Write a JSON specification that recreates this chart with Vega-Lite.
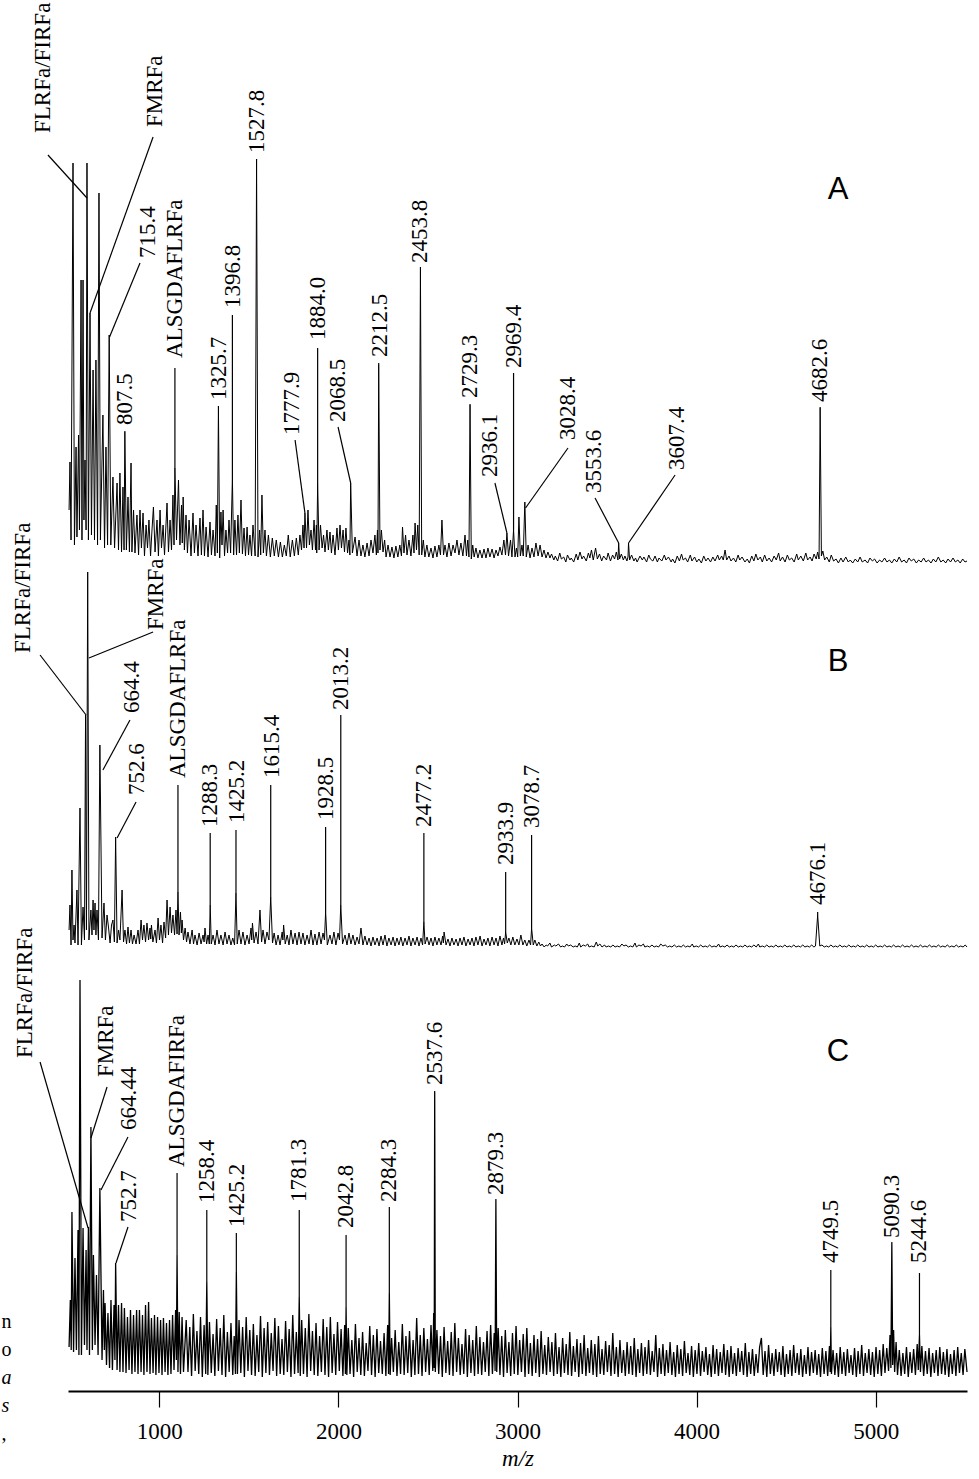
{
"$schema": "https://vega.github.io/schema/vega-lite/v6.json",
"width": 899, "height": 1220,
"autosize": {"type": "none"},
"padding": {"left": 68, "top": 160, "right": 12, "bottom": 99},
"background": "white",
"config": {"view": {"stroke": null}},
"resolve": {"scale": {"y": "independent"}, "axis": {"y": "independent"}},
"datasets": {
"A": [{"m":496,"i":55},{"m":501,"i":103},{"m":507,"i":25},{"m":518,"i":402},{"m":526,"i":20},{"m":535,"i":118},{"m":540,"i":28},{"m":549,"i":130},{"m":554,"i":35},{"m":563,"i":285},{"m":568,"i":25},{"m":574,"i":285},{"m":579,"i":45},{"m":585,"i":105},{"m":591,"i":35},{"m":596,"i":402},{"m":604,"i":25},{"m":613,"i":252},{"m":621,"i":30},{"m":630,"i":195},{"m":638,"i":25},{"m":646,"i":205},{"m":655,"i":20},{"m":663,"i":372},{"m":671,"i":25},{"m":685,"i":150},{"m":694,"i":17},{"m":702,"i":118},{"m":711,"i":20},{"m":720,"i":230},{"m":729,"i":20},{"m":741,"i":88},{"m":750,"i":17},{"m":764,"i":82},{"m":772,"i":15},{"m":780,"i":92},{"m":789,"i":13},{"m":797,"i":78},{"m":803,"i":15},{"m":807.5,"i":133},{"m":816,"i":15},{"m":825,"i":68},{"m":833,"i":13},{"m":842,"i":102},{"m":847,"i":13},{"m":856,"i":55},{"m":864,"i":12},{"m":875,"i":50},{"m":884,"i":10},{"m":892,"i":55},{"m":900,"i":17},{"m":909,"i":52},{"m":917,"i":9},{"m":926,"i":40},{"m":934,"i":17},{"m":942,"i":45},{"m":951,"i":9},{"m":959,"i":35},{"m":967,"i":58},{"m":976,"i":13},{"m":987,"i":45},{"m":995,"i":9},{"m":1004,"i":55},{"m":1012,"i":17},{"m":1021,"i":40},{"m":1029,"i":10},{"m":1043,"i":62},{"m":1051,"i":13},{"m":1060,"i":45},{"m":1068,"i":15},{"m":1076,"i":70},{"m":1082,"i":20},{"m":1087,"i":97},{"m":1096,"i":25},{"m":1107,"i":85},{"m":1115,"i":20},{"m":1124,"i":60},{"m":1128,"i":22},{"m":1133,"i":68},{"m":1140,"i":15},{"m":1149,"i":50},{"m":1157,"i":12},{"m":1166,"i":45},{"m":1177,"i":9},{"m":1188,"i":52},{"m":1196,"i":12},{"m":1205,"i":40},{"m":1216,"i":9},{"m":1227,"i":47},{"m":1235,"i":10},{"m":1244,"i":55},{"m":1252,"i":9},{"m":1261,"i":38},{"m":1272,"i":8},{"m":1283,"i":43},{"m":1291,"i":10},{"m":1300,"i":35},{"m":1311,"i":9},{"m":1318,"i":60},{"m":1324,"i":12},{"m":1330,"i":158},{"m":1337,"i":7},{"m":1344,"i":53},{"m":1350,"i":20},{"m":1356,"i":55},{"m":1364,"i":9},{"m":1372,"i":35},{"m":1381,"i":12},{"m":1389,"i":45},{"m":1398,"i":12},{"m":1408,"i":87},{"m":1415,"i":10},{"m":1422,"i":45},{"m":1431,"i":10},{"m":1439,"i":50},{"m":1447,"i":12},{"m":1456,"i":65},{"m":1464,"i":11},{"m":1473,"i":37},{"m":1481,"i":9},{"m":1490,"i":38},{"m":1498,"i":10},{"m":1506,"i":30},{"m":1515,"i":9},{"m":1523,"i":40},{"m":1535,"i":9},{"m":1543,"i":405},{"m":1551,"i":8},{"m":1560,"i":35},{"m":1566,"i":10},{"m":1573,"i":70},{"m":1581,"i":12},{"m":1590,"i":35},{"m":1598,"i":9},{"m":1609,"i":30},{"m":1620,"i":8},{"m":1631,"i":27},{"m":1642,"i":9},{"m":1653,"i":25},{"m":1665,"i":8},{"m":1676,"i":23},{"m":1687,"i":8},{"m":1698,"i":20},{"m":1709,"i":9},{"m":1720,"i":30},{"m":1731,"i":8},{"m":1743,"i":25},{"m":1754,"i":9},{"m":1765,"i":27},{"m":1776,"i":10},{"m":1785,"i":30},{"m":1794,"i":15},{"m":1802,"i":40},{"m":1808,"i":17},{"m":1813,"i":52},{"m":1822,"i":17},{"m":1830,"i":55},{"m":1838,"i":20},{"m":1847,"i":35},{"m":1855,"i":15},{"m":1864,"i":45},{"m":1872,"i":15},{"m":1877,"i":40},{"m":1879,"i":12},{"m":1884,"i":82},{"m":1892,"i":15},{"m":1900,"i":40},{"m":1909,"i":17},{"m":1917,"i":30},{"m":1925,"i":13},{"m":1936,"i":35},{"m":1944,"i":15},{"m":1953,"i":33},{"m":1961,"i":12},{"m":1970,"i":30},{"m":1981,"i":10},{"m":1992,"i":37},{"m":2000,"i":15},{"m":2009,"i":40},{"m":2017,"i":17},{"m":2026,"i":35},{"m":2034,"i":13},{"m":2042,"i":37},{"m":2051,"i":12},{"m":2059,"i":25},{"m":2064,"i":10},{"m":2068.5,"i":82},{"m":2078,"i":12},{"m":2093,"i":28},{"m":2104,"i":9},{"m":2115,"i":25},{"m":2126,"i":9},{"m":2137,"i":20},{"m":2148,"i":8},{"m":2160,"i":22},{"m":2171,"i":9},{"m":2182,"i":25},{"m":2193,"i":12},{"m":2204,"i":30},{"m":2212,"i":10},{"m":2218,"i":35},{"m":2221,"i":12},{"m":2225,"i":200},{"m":2232,"i":15},{"m":2240,"i":35},{"m":2249,"i":13},{"m":2258,"i":25},{"m":2266,"i":8},{"m":2277,"i":20},{"m":2288,"i":8},{"m":2299,"i":18},{"m":2310,"i":7},{"m":2321,"i":19},{"m":2332,"i":8},{"m":2343,"i":20},{"m":2352,"i":9},{"m":2358,"i":38},{"m":2366,"i":12},{"m":2375,"i":30},{"m":2383,"i":10},{"m":2394,"i":25},{"m":2405,"i":9},{"m":2416,"i":30},{"m":2422,"i":12},{"m":2428,"i":42},{"m":2436,"i":15},{"m":2443,"i":40},{"m":2451,"i":10},{"m":2458,"i":297},{"m":2465,"i":10},{"m":2474,"i":25},{"m":2483,"i":8},{"m":2494,"i":20},{"m":2505,"i":8},{"m":2517,"i":17},{"m":2528,"i":7},{"m":2539,"i":19},{"m":2550,"i":8},{"m":2561,"i":20},{"m":2570,"i":10},{"m":2578,"i":45},{"m":2587,"i":10},{"m":2595,"i":20},{"m":2606,"i":8},{"m":2617,"i":22},{"m":2629,"i":9},{"m":2640,"i":20},{"m":2651,"i":12},{"m":2662,"i":25},{"m":2673,"i":10},{"m":2684,"i":22},{"m":2695,"i":9},{"m":2707,"i":30},{"m":2715,"i":9},{"m":2722,"i":25},{"m":2729,"i":8},{"m":2735,"i":160},{"m":2742,"i":6},{"m":2750,"i":20},{"m":2758,"i":8},{"m":2768,"i":17},{"m":2779,"i":7},{"m":2790,"i":15},{"m":2802,"i":7},{"m":2813,"i":16},{"m":2824,"i":7},{"m":2835,"i":17},{"m":2846,"i":8},{"m":2858,"i":16},{"m":2869,"i":7},{"m":2880,"i":15},{"m":2891,"i":9},{"m":2902,"i":18},{"m":2913,"i":10},{"m":2924,"i":25},{"m":2933,"i":10},{"m":2941,"i":32},{"m":2950,"i":9},{"m":2961,"i":25},{"m":2969,"i":8},{"m":2978,"i":35},{"m":2986,"i":8},{"m":2994,"i":17},{"m":3001,"i":8},{"m":3008,"i":48},{"m":3016,"i":9},{"m":3025,"i":20},{"m":3032,"i":9},{"m":3041,"i":63},{"m":3049,"i":8},{"m":3059,"i":20},{"m":3070,"i":7},{"m":3081,"i":17},{"m":3092,"i":8},{"m":3103,"i":22},{"m":3115,"i":9},{"m":3126,"i":20},{"m":3137,"i":8},{"m":3148,"i":15},{"m":3159,"i":7},{"m":3170,"i":13},{"m":3181,"i":7},{"m":3190,"i":11},{"m":3203,"i":5},{"m":3211,"i":9},{"m":3224,"i":4},{"m":3236,"i":12},{"m":3245,"i":6},{"m":3258,"i":8},{"m":3270,"i":3},{"m":3279,"i":10},{"m":3293,"i":5},{"m":3300,"i":7},{"m":3314,"i":3},{"m":3328,"i":11},{"m":3337,"i":5},{"m":3349,"i":13},{"m":3360,"i":6},{"m":3369,"i":9},{"m":3384,"i":4},{"m":3396,"i":12},{"m":3404,"i":7},{"m":3413,"i":15},{"m":3423,"i":5},{"m":3436,"i":17},{"m":3446,"i":6},{"m":3458,"i":11},{"m":3470,"i":4},{"m":3481,"i":9},{"m":3497,"i":5},{"m":3506,"i":12},{"m":3519,"i":4},{"m":3531,"i":10},{"m":3542,"i":6},{"m":3552,"i":13},{"m":3561,"i":5},{"m":3565,"i":22},{"m":3570,"i":6},{"m":3580,"i":11},{"m":3591,"i":5},{"m":3600,"i":9},{"m":3611,"i":4},{"m":3617,"i":8},{"m":3620,"i":22},{"m":3626,"i":5},{"m":3637,"i":10},{"m":3650,"i":4},{"m":3659,"i":7},{"m":3668,"i":3},{"m":3684,"i":9},{"m":3697,"i":5},{"m":3706,"i":8},{"m":3721,"i":3},{"m":3733,"i":10},{"m":3742,"i":6},{"m":3756,"i":4},{"m":3768,"i":9},{"m":3781,"i":3},{"m":3790,"i":7},{"m":3806,"i":4},{"m":3820,"i":10},{"m":3829,"i":5},{"m":3843,"i":8},{"m":3858,"i":3},{"m":3866,"i":6},{"m":3879,"i":2},{"m":3892,"i":9},{"m":3904,"i":4},{"m":3916,"i":11},{"m":3925,"i":5},{"m":3938,"i":7},{"m":3950,"i":3},{"m":3965,"i":10},{"m":3974,"i":4},{"m":3989,"i":8},{"m":4001,"i":3},{"m":4013,"i":6},{"m":4027,"i":2},{"m":4040,"i":9},{"m":4052,"i":4},{"m":4064,"i":7},{"m":4078,"i":3},{"m":4091,"i":8},{"m":4103,"i":4},{"m":4118,"i":10},{"m":4127,"i":5},{"m":4140,"i":9},{"m":4149,"i":5},{"m":4159,"i":15},{"m":4168,"i":5},{"m":4181,"i":9},{"m":4192,"i":4},{"m":4206,"i":7},{"m":4219,"i":3},{"m":4232,"i":10},{"m":4241,"i":5},{"m":4254,"i":8},{"m":4270,"i":3},{"m":4283,"i":6},{"m":4295,"i":2},{"m":4308,"i":9},{"m":4320,"i":4},{"m":4331,"i":11},{"m":4342,"i":5},{"m":4356,"i":8},{"m":4367,"i":3},{"m":4380,"i":10},{"m":4392,"i":4},{"m":4405,"i":7},{"m":4419,"i":3},{"m":4433,"i":9},{"m":4445,"i":5},{"m":4458,"i":12},{"m":4467,"i":4},{"m":4480,"i":8},{"m":4494,"i":3},{"m":4507,"i":10},{"m":4518,"i":5},{"m":4531,"i":7},{"m":4545,"i":3},{"m":4559,"i":11},{"m":4568,"i":5},{"m":4582,"i":9},{"m":4596,"i":4},{"m":4610,"i":12},{"m":4620,"i":5},{"m":4634,"i":8},{"m":4645,"i":4},{"m":4656,"i":11},{"m":4668,"i":6},{"m":4676,"i":13},{"m":4684,"i":6},{"m":4690,"i":157},{"m":4697,"i":9},{"m":4705,"i":14},{"m":4715,"i":5},{"m":4727,"i":8},{"m":4741,"i":3},{"m":4752,"i":10},{"m":4765,"i":4},{"m":4779,"i":6},{"m":4792,"i":2},{"m":4806,"i":7},{"m":4818,"i":3},{"m":4833,"i":8},{"m":4847,"i":3},{"m":4858,"i":5},{"m":4872,"i":2},{"m":4886,"i":6},{"m":4900,"i":3},{"m":4913,"i":8},{"m":4925,"i":3},{"m":4941,"i":5},{"m":4955,"i":2},{"m":4968,"i":7},{"m":4982,"i":4},{"m":4994,"i":6},{"m":5008,"i":2},{"m":5022,"i":5},{"m":5035,"i":3},{"m":5050,"i":7},{"m":5063,"i":3},{"m":5077,"i":5},{"m":5090,"i":2},{"m":5104,"i":6},{"m":5118,"i":3},{"m":5131,"i":8},{"m":5145,"i":3},{"m":5159,"i":5},{"m":5172,"i":2},{"m":5186,"i":7},{"m":5199,"i":4},{"m":5213,"i":6},{"m":5227,"i":2},{"m":5240,"i":5},{"m":5254,"i":3},{"m":5268,"i":7},{"m":5281,"i":3},{"m":5295,"i":5},{"m":5309,"i":2},{"m":5322,"i":6},{"m":5336,"i":3},{"m":5350,"i":8},{"m":5364,"i":3},{"m":5377,"i":5},{"m":5391,"i":2},{"m":5404,"i":6},{"m":5418,"i":3},{"m":5432,"i":7},{"m":5445,"i":3},{"m":5459,"i":5},{"m":5472,"i":2},{"m":5486,"i":6},{"m":5499,"i":3},{"m":5510,"i":4}],
"B": [{"m":496,"i":18},{"m":501,"i":43},{"m":507,"i":3},{"m":512,"i":78},{"m":518,"i":8},{"m":524,"i":23},{"m":529,"i":5},{"m":540,"i":58},{"m":546,"i":3},{"m":557,"i":140},{"m":565,"i":3},{"m":574,"i":41},{"m":582,"i":8},{"m":588,"i":233},{"m":593,"i":18},{"m":600,"i":376},{"m":607,"i":8},{"m":618,"i":38},{"m":624,"i":13},{"m":630,"i":48},{"m":635,"i":18},{"m":641,"i":45},{"m":646,"i":13},{"m":652,"i":38},{"m":660,"i":8},{"m":668,"i":203},{"m":680,"i":10},{"m":691,"i":45},{"m":699,"i":8},{"m":708,"i":33},{"m":716,"i":21},{"m":725,"i":5},{"m":733,"i":23},{"m":741,"i":28},{"m":749,"i":6},{"m":756,"i":111},{"m":764,"i":5},{"m":772,"i":18},{"m":780,"i":8},{"m":792,"i":58},{"m":800,"i":6},{"m":808,"i":18},{"m":817,"i":4},{"m":825,"i":21},{"m":833,"i":5},{"m":842,"i":18},{"m":850,"i":4},{"m":859,"i":13},{"m":870,"i":4},{"m":881,"i":18},{"m":889,"i":4},{"m":898,"i":28},{"m":906,"i":8},{"m":914,"i":23},{"m":923,"i":6},{"m":931,"i":25},{"m":940,"i":8},{"m":948,"i":20},{"m":952,"i":9},{"m":956,"i":23},{"m":964,"i":6},{"m":976,"i":18},{"m":984,"i":5},{"m":993,"i":30},{"m":1001,"i":8},{"m":1009,"i":23},{"m":1018,"i":5},{"m":1026,"i":26},{"m":1035,"i":10},{"m":1043,"i":48},{"m":1051,"i":13},{"m":1060,"i":41},{"m":1068,"i":15},{"m":1076,"i":33},{"m":1085,"i":13},{"m":1093,"i":38},{"m":1099,"i":14},{"m":1104,"i":56},{"m":1110,"i":13},{"m":1118,"i":36},{"m":1123,"i":15},{"m":1127,"i":28},{"m":1135,"i":8},{"m":1144,"i":20},{"m":1152,"i":6},{"m":1160,"i":16},{"m":1171,"i":4},{"m":1183,"i":18},{"m":1191,"i":4},{"m":1199,"i":13},{"m":1211,"i":3},{"m":1222,"i":15},{"m":1233,"i":4},{"m":1244,"i":13},{"m":1250,"i":6},{"m":1255,"i":20},{"m":1264,"i":4},{"m":1272,"i":13},{"m":1279,"i":4},{"m":1284,"i":43},{"m":1290,"i":4},{"m":1300,"i":13},{"m":1311,"i":3},{"m":1322,"i":18},{"m":1333,"i":4},{"m":1344,"i":13},{"m":1356,"i":3},{"m":1367,"i":16},{"m":1378,"i":4},{"m":1389,"i":13},{"m":1400,"i":3},{"m":1410,"i":10},{"m":1420,"i":3},{"m":1428,"i":55},{"m":1435,"i":4},{"m":1445,"i":18},{"m":1456,"i":4},{"m":1467,"i":16},{"m":1478,"i":3},{"m":1490,"i":13},{"m":1501,"i":4},{"m":1512,"i":20},{"m":1516,"i":8},{"m":1520,"i":25},{"m":1529,"i":5},{"m":1540,"i":16},{"m":1551,"i":4},{"m":1562,"i":38},{"m":1571,"i":6},{"m":1579,"i":18},{"m":1590,"i":4},{"m":1601,"i":16},{"m":1612,"i":8},{"m":1622,"i":51},{"m":1632,"i":5},{"m":1641,"i":15},{"m":1652,"i":3},{"m":1663,"i":13},{"m":1674,"i":3},{"m":1686,"i":16},{"m":1690,"i":8},{"m":1694,"i":23},{"m":1703,"i":4},{"m":1714,"i":13},{"m":1724,"i":3},{"m":1735,"i":18},{"m":1746,"i":4},{"m":1758,"i":15},{"m":1769,"i":3},{"m":1780,"i":16},{"m":1791,"i":4},{"m":1802,"i":15},{"m":1813,"i":3},{"m":1825,"i":13},{"m":1836,"i":4},{"m":1847,"i":18},{"m":1858,"i":3},{"m":1869,"i":14},{"m":1880,"i":3},{"m":1892,"i":16},{"m":1903,"i":4},{"m":1914,"i":15},{"m":1922,"i":8},{"m":1928.5,"i":36},{"m":1938,"i":3},{"m":1953,"i":13},{"m":1964,"i":4},{"m":1975,"i":16},{"m":1986,"i":3},{"m":1998,"i":15},{"m":2006,"i":8},{"m":2013.2,"i":43},{"m":2023,"i":4},{"m":2037,"i":13},{"m":2048,"i":3},{"m":2059,"i":15},{"m":2070,"i":4},{"m":2081,"i":13},{"m":2093,"i":3},{"m":2104,"i":11},{"m":2115,"i":4},{"m":2126,"i":20},{"m":2137,"i":3},{"m":2148,"i":12},{"m":2160,"i":3},{"m":2171,"i":10},{"m":2182,"i":2},{"m":2193,"i":11},{"m":2204,"i":3},{"m":2216,"i":10},{"m":2227,"i":2},{"m":2238,"i":12},{"m":2249,"i":3},{"m":2260,"i":13},{"m":2271,"i":2},{"m":2282,"i":10},{"m":2294,"i":3},{"m":2305,"i":11},{"m":2316,"i":2},{"m":2327,"i":10},{"m":2338,"i":3},{"m":2349,"i":11},{"m":2360,"i":2},{"m":2372,"i":10},{"m":2383,"i":3},{"m":2394,"i":12},{"m":2405,"i":2},{"m":2416,"i":10},{"m":2428,"i":3},{"m":2439,"i":11},{"m":2450,"i":2},{"m":2461,"i":10},{"m":2470,"i":3},{"m":2477.2,"i":26},{"m":2484,"i":4},{"m":2495,"i":11},{"m":2506,"i":3},{"m":2517,"i":10},{"m":2528,"i":2},{"m":2539,"i":11},{"m":2550,"i":3},{"m":2561,"i":10},{"m":2573,"i":3},{"m":2582,"i":12},{"m":2586,"i":5},{"m":2590,"i":16},{"m":2601,"i":3},{"m":2612,"i":9},{"m":2623,"i":2},{"m":2634,"i":10},{"m":2645,"i":3},{"m":2657,"i":9},{"m":2668,"i":2},{"m":2679,"i":10},{"m":2690,"i":3},{"m":2701,"i":11},{"m":2712,"i":2},{"m":2724,"i":9},{"m":2735,"i":3},{"m":2746,"i":10},{"m":2757,"i":2},{"m":2768,"i":11},{"m":2779,"i":3},{"m":2791,"i":12},{"m":2802,"i":2},{"m":2813,"i":9},{"m":2824,"i":3},{"m":2835,"i":10},{"m":2846,"i":2},{"m":2858,"i":11},{"m":2869,"i":3},{"m":2880,"i":10},{"m":2891,"i":2},{"m":2902,"i":12},{"m":2913,"i":3},{"m":2922,"i":10},{"m":2928,"i":4},{"m":2933.9,"i":16},{"m":2943,"i":5},{"m":2952,"i":10},{"m":2963,"i":3},{"m":2974,"i":11},{"m":2985,"i":3},{"m":2997,"i":9},{"m":3008,"i":3},{"m":3019,"i":13},{"m":3030,"i":3},{"m":3041,"i":8},{"m":3052,"i":2},{"m":3064,"i":8},{"m":3073,"i":3},{"m":3078.7,"i":20},{"m":3088,"i":3},{"m":3097,"i":8},{"m":3108,"i":2},{"m":3119,"i":6},{"m":3128,"i":2},{"m":3137,"i":4},{"m":3149,"i":1},{"m":3160,"i":3},{"m":3168,"i":2},{"m":3181,"i":5},{"m":3190,"i":1},{"m":3206,"i":3},{"m":3214,"i":2},{"m":3229,"i":4},{"m":3241,"i":1},{"m":3250,"i":2},{"m":3263,"i":1},{"m":3275,"i":4},{"m":3284,"i":2},{"m":3297,"i":3},{"m":3311,"i":1},{"m":3322,"i":2},{"m":3334,"i":1},{"m":3345,"i":5},{"m":3353,"i":1},{"m":3367,"i":3},{"m":3379,"i":2},{"m":3392,"i":4},{"m":3400,"i":1},{"m":3413,"i":2},{"m":3428,"i":1},{"m":3440,"i":6},{"m":3448,"i":2},{"m":3460,"i":4},{"m":3472,"i":1},{"m":3486,"i":3},{"m":3495,"i":1},{"m":3508,"i":2},{"m":3521,"i":1},{"m":3533,"i":3},{"m":3545,"i":1},{"m":3557,"i":2},{"m":3570,"i":1},{"m":3583,"i":4},{"m":3594,"i":2},{"m":3606,"i":3},{"m":3619,"i":1},{"m":3631,"i":2},{"m":3644,"i":1},{"m":3656,"i":5},{"m":3664,"i":1},{"m":3678,"i":3},{"m":3690,"i":2},{"m":3703,"i":4},{"m":3711,"i":1},{"m":3725,"i":2},{"m":3738,"i":1},{"m":3751,"i":3},{"m":3763,"i":1},{"m":3775,"i":2},{"m":3788,"i":1},{"m":3800,"i":4},{"m":3812,"i":2},{"m":3825,"i":3},{"m":3838,"i":1},{"m":3850,"i":2},{"m":3862,"i":1},{"m":3876,"i":3},{"m":3888,"i":1},{"m":3901,"i":2},{"m":3914,"i":1},{"m":3926,"i":3},{"m":3938,"i":1},{"m":3951,"i":2},{"m":3963,"i":1},{"m":3976,"i":4},{"m":3984,"i":1},{"m":3998,"i":2},{"m":4011,"i":1},{"m":4023,"i":3},{"m":4036,"i":1},{"m":4048,"i":2},{"m":4061,"i":1},{"m":4073,"i":3},{"m":4085,"i":1},{"m":4098,"i":2},{"m":4110,"i":1},{"m":4123,"i":4},{"m":4131,"i":1},{"m":4145,"i":2},{"m":4158,"i":1},{"m":4170,"i":3},{"m":4183,"i":1},{"m":4195,"i":2},{"m":4208,"i":1},{"m":4220,"i":3},{"m":4233,"i":1},{"m":4245,"i":2},{"m":4258,"i":1},{"m":4270,"i":3},{"m":4283,"i":1},{"m":4295,"i":2},{"m":4308,"i":1},{"m":4320,"i":3},{"m":4333,"i":1},{"m":4345,"i":4},{"m":4353,"i":1},{"m":4367,"i":2},{"m":4380,"i":1},{"m":4392,"i":3},{"m":4405,"i":1},{"m":4417,"i":2},{"m":4430,"i":1},{"m":4443,"i":3},{"m":4455,"i":1},{"m":4468,"i":2},{"m":4480,"i":1},{"m":4493,"i":3},{"m":4505,"i":1},{"m":4518,"i":2},{"m":4530,"i":1},{"m":4543,"i":3},{"m":4555,"i":1},{"m":4568,"i":2},{"m":4580,"i":1},{"m":4593,"i":3},{"m":4605,"i":1},{"m":4618,"i":2},{"m":4630,"i":1},{"m":4643,"i":3},{"m":4655,"i":1},{"m":4664,"i":2},{"m":4676.1,"i":33},{"m":4688,"i":2},{"m":4700,"i":3},{"m":4713,"i":1},{"m":4725,"i":2},{"m":4738,"i":1},{"m":4750,"i":3},{"m":4763,"i":1},{"m":4775,"i":2},{"m":4788,"i":1},{"m":4800,"i":3},{"m":4813,"i":1},{"m":4825,"i":2},{"m":4838,"i":1},{"m":4850,"i":3},{"m":4863,"i":1},{"m":4875,"i":2},{"m":4888,"i":1},{"m":4900,"i":3},{"m":4913,"i":1},{"m":4925,"i":2},{"m":4938,"i":1},{"m":4950,"i":3},{"m":4963,"i":1},{"m":4975,"i":2},{"m":4988,"i":1},{"m":5000,"i":3},{"m":5013,"i":1},{"m":5025,"i":2},{"m":5038,"i":1},{"m":5050,"i":3},{"m":5063,"i":1},{"m":5075,"i":2},{"m":5088,"i":1},{"m":5100,"i":3},{"m":5113,"i":1},{"m":5125,"i":2},{"m":5138,"i":1},{"m":5150,"i":3},{"m":5163,"i":1},{"m":5175,"i":2},{"m":5188,"i":1},{"m":5200,"i":3},{"m":5213,"i":1},{"m":5225,"i":2},{"m":5238,"i":1},{"m":5250,"i":3},{"m":5263,"i":1},{"m":5275,"i":2},{"m":5288,"i":1},{"m":5300,"i":3},{"m":5313,"i":1},{"m":5325,"i":2},{"m":5338,"i":1},{"m":5350,"i":3},{"m":5363,"i":1},{"m":5375,"i":2},{"m":5388,"i":1},{"m":5400,"i":3},{"m":5413,"i":1},{"m":5425,"i":2},{"m":5438,"i":1},{"m":5450,"i":3},{"m":5463,"i":1},{"m":5475,"i":2},{"m":5488,"i":1},{"m":5500,"i":3},{"m":5510,"i":1}],
"C": [{"m":496,"i":33},{"m":503,"i":80},{"m":508,"i":30},{"m":512,"i":168},{"m":521,"i":28},{"m":529,"i":122},{"m":537,"i":30},{"m":546,"i":150},{"m":551,"i":25},{"m":557,"i":400},{"m":565,"i":25},{"m":574,"i":152},{"m":582,"i":35},{"m":591,"i":130},{"m":596,"i":30},{"m":604,"i":153},{"m":610,"i":25},{"m":618,"i":253},{"m":626,"i":30},{"m":632,"i":125},{"m":641,"i":35},{"m":649,"i":105},{"m":658,"i":25},{"m":668,"i":192},{"m":680,"i":20},{"m":688,"i":90},{"m":693,"i":30},{"m":697,"i":77},{"m":705,"i":15},{"m":713,"i":67},{"m":722,"i":12},{"m":730,"i":80},{"m":738,"i":10},{"m":747,"i":75},{"m":752,"i":20},{"m":756,"i":117},{"m":764,"i":10},{"m":772,"i":75},{"m":780,"i":8},{"m":789,"i":77},{"m":797,"i":8},{"m":805,"i":72},{"m":814,"i":7},{"m":822,"i":63},{"m":831,"i":10},{"m":839,"i":70},{"m":847,"i":6},{"m":856,"i":65},{"m":864,"i":8},{"m":873,"i":70},{"m":881,"i":6},{"m":889,"i":70},{"m":898,"i":8},{"m":906,"i":65},{"m":914,"i":5},{"m":923,"i":75},{"m":931,"i":8},{"m":940,"i":78},{"m":948,"i":6},{"m":956,"i":62},{"m":965,"i":7},{"m":973,"i":65},{"m":981,"i":5},{"m":990,"i":63},{"m":998,"i":7},{"m":1007,"i":60},{"m":1015,"i":5},{"m":1023,"i":62},{"m":1032,"i":8},{"m":1040,"i":57},{"m":1048,"i":5},{"m":1057,"i":60},{"m":1065,"i":6},{"m":1074,"i":65},{"m":1082,"i":10},{"m":1091,"i":70},{"m":1095,"i":20},{"m":1099,"i":125},{"m":1104,"i":8},{"m":1111,"i":68},{"m":1118,"i":6},{"m":1127,"i":63},{"m":1135,"i":8},{"m":1150,"i":60},{"m":1160,"i":8},{"m":1170,"i":53},{"m":1180,"i":4},{"m":1190,"i":66},{"m":1200,"i":9},{"m":1210,"i":49},{"m":1220,"i":6},{"m":1230,"i":63},{"m":1240,"i":3},{"m":1250,"i":55},{"m":1259,"i":6},{"m":1265,"i":98},{"m":1271,"i":5},{"m":1280,"i":58},{"m":1290,"i":7},{"m":1300,"i":46},{"m":1310,"i":4},{"m":1320,"i":61},{"m":1330,"i":9},{"m":1340,"i":52},{"m":1350,"i":5},{"m":1360,"i":65},{"m":1370,"i":3},{"m":1380,"i":48},{"m":1390,"i":8},{"m":1400,"i":57},{"m":1410,"i":5},{"m":1418,"i":44},{"m":1425,"i":6},{"m":1430,"i":108},{"m":1436,"i":6},{"m":1445,"i":60},{"m":1455,"i":7},{"m":1465,"i":53},{"m":1475,"i":3},{"m":1485,"i":63},{"m":1495,"i":9},{"m":1505,"i":50},{"m":1515,"i":5},{"m":1525,"i":56},{"m":1535,"i":4},{"m":1545,"i":45},{"m":1555,"i":8},{"m":1565,"i":64},{"m":1575,"i":3},{"m":1585,"i":52},{"m":1595,"i":7},{"m":1605,"i":58},{"m":1615,"i":5},{"m":1625,"i":47},{"m":1635,"i":9},{"m":1645,"i":62},{"m":1655,"i":4},{"m":1665,"i":54},{"m":1675,"i":6},{"m":1685,"i":41},{"m":1695,"i":5},{"m":1705,"i":59},{"m":1715,"i":8},{"m":1725,"i":51},{"m":1735,"i":3},{"m":1745,"i":65},{"m":1755,"i":6},{"m":1765,"i":48},{"m":1775,"i":7},{"m":1781.3,"i":83},{"m":1787,"i":4},{"m":1795,"i":60},{"m":1805,"i":6},{"m":1815,"i":52},{"m":1825,"i":3},{"m":1835,"i":66},{"m":1845,"i":9},{"m":1855,"i":49},{"m":1865,"i":5},{"m":1875,"i":57},{"m":1885,"i":4},{"m":1895,"i":44},{"m":1905,"i":8},{"m":1915,"i":61},{"m":1925,"i":5},{"m":1935,"i":53},{"m":1945,"i":3},{"m":1955,"i":63},{"m":1965,"i":7},{"m":1975,"i":46},{"m":1985,"i":5},{"m":1995,"i":58},{"m":2005,"i":9},{"m":2015,"i":51},{"m":2025,"i":4},{"m":2035,"i":55},{"m":2039,"i":6},{"m":2042.8,"i":73},{"m":2047,"i":5},{"m":2055,"i":52},{"m":2065,"i":6},{"m":2075,"i":40},{"m":2085,"i":3},{"m":2095,"i":56},{"m":2105,"i":8},{"m":2115,"i":42},{"m":2125,"i":5},{"m":2135,"i":48},{"m":2145,"i":4},{"m":2155,"i":37},{"m":2165,"i":9},{"m":2175,"i":54},{"m":2185,"i":5},{"m":2195,"i":45},{"m":2205,"i":3},{"m":2215,"i":51},{"m":2225,"i":7},{"m":2235,"i":39},{"m":2245,"i":6},{"m":2255,"i":47},{"m":2265,"i":4},{"m":2275,"i":55},{"m":2280,"i":6},{"m":2284.3,"i":87},{"m":2289,"i":5},{"m":2297,"i":42},{"m":2307,"i":8},{"m":2317,"i":50},{"m":2327,"i":4},{"m":2337,"i":38},{"m":2347,"i":6},{"m":2357,"i":56},{"m":2367,"i":5},{"m":2377,"i":44},{"m":2387,"i":7},{"m":2397,"i":49},{"m":2407,"i":3},{"m":2417,"i":40},{"m":2427,"i":5},{"m":2437,"i":62},{"m":2447,"i":6},{"m":2457,"i":45},{"m":2467,"i":4},{"m":2477,"i":52},{"m":2487,"i":8},{"m":2497,"i":41},{"m":2507,"i":5},{"m":2517,"i":55},{"m":2527,"i":9},{"m":2532,"i":67},{"m":2535,"i":12},{"m":2537.6,"i":288},{"m":2541,"i":8},{"m":2550,"i":50},{"m":2560,"i":6},{"m":2570,"i":44},{"m":2580,"i":3},{"m":2590,"i":53},{"m":2600,"i":7},{"m":2610,"i":39},{"m":2620,"i":5},{"m":2630,"i":48},{"m":2640,"i":4},{"m":2650,"i":57},{"m":2660,"i":8},{"m":2670,"i":42},{"m":2680,"i":5},{"m":2690,"i":36},{"m":2700,"i":6},{"m":2710,"i":51},{"m":2720,"i":3},{"m":2730,"i":45},{"m":2740,"i":7},{"m":2750,"i":40},{"m":2760,"i":4},{"m":2770,"i":54},{"m":2780,"i":6},{"m":2790,"i":43},{"m":2800,"i":5},{"m":2810,"i":38},{"m":2820,"i":8},{"m":2830,"i":49},{"m":2840,"i":4},{"m":2850,"i":55},{"m":2860,"i":6},{"m":2870,"i":47},{"m":2875,"i":9},{"m":2879.3,"i":180},{"m":2884,"i":8},{"m":2892,"i":52},{"m":2902,"i":5},{"m":2912,"i":44},{"m":2922,"i":3},{"m":2932,"i":50},{"m":2942,"i":7},{"m":2952,"i":38},{"m":2962,"i":4},{"m":2972,"i":47},{"m":2982,"i":6},{"m":2992,"i":54},{"m":3002,"i":5},{"m":3012,"i":40},{"m":3022,"i":8},{"m":3032,"i":46},{"m":3042,"i":3},{"m":3052,"i":52},{"m":3062,"i":6},{"m":3072,"i":37},{"m":3082,"i":4},{"m":3092,"i":45},{"m":3102,"i":7},{"m":3112,"i":41},{"m":3122,"i":3},{"m":3132,"i":49},{"m":3142,"i":6},{"m":3152,"i":35},{"m":3162,"i":5},{"m":3172,"i":43},{"m":3182,"i":8},{"m":3192,"i":38},{"m":3202,"i":4},{"m":3212,"i":47},{"m":3222,"i":6},{"m":3232,"i":33},{"m":3242,"i":3},{"m":3252,"i":42},{"m":3262,"i":7},{"m":3272,"i":36},{"m":3282,"i":5},{"m":3292,"i":48},{"m":3302,"i":4},{"m":3312,"i":34},{"m":3322,"i":8},{"m":3332,"i":41},{"m":3342,"i":3},{"m":3352,"i":37},{"m":3362,"i":6},{"m":3372,"i":45},{"m":3382,"i":4},{"m":3392,"i":32},{"m":3402,"i":7},{"m":3412,"i":40},{"m":3422,"i":5},{"m":3432,"i":36},{"m":3442,"i":3},{"m":3452,"i":44},{"m":3462,"i":6},{"m":3472,"i":31},{"m":3482,"i":5},{"m":3492,"i":39},{"m":3502,"i":8},{"m":3512,"i":35},{"m":3522,"i":4},{"m":3532,"i":47},{"m":3542,"i":6},{"m":3552,"i":33},{"m":3562,"i":3},{"m":3572,"i":40},{"m":3582,"i":7},{"m":3592,"i":30},{"m":3602,"i":4},{"m":3612,"i":38},{"m":3622,"i":6},{"m":3632,"i":34},{"m":3642,"i":5},{"m":3652,"i":42},{"m":3662,"i":3},{"m":3672,"i":31},{"m":3682,"i":7},{"m":3692,"i":37},{"m":3702,"i":4},{"m":3712,"i":33},{"m":3722,"i":6},{"m":3732,"i":40},{"m":3742,"i":5},{"m":3752,"i":29},{"m":3762,"i":8},{"m":3772,"i":45},{"m":3782,"i":3},{"m":3792,"i":32},{"m":3802,"i":6},{"m":3812,"i":36},{"m":3822,"i":4},{"m":3832,"i":30},{"m":3842,"i":7},{"m":3852,"i":38},{"m":3862,"i":5},{"m":3872,"i":28},{"m":3882,"i":3},{"m":3892,"i":35},{"m":3902,"i":6},{"m":3912,"i":31},{"m":3922,"i":4},{"m":3932,"i":39},{"m":3942,"i":7},{"m":3952,"i":27},{"m":3962,"i":5},{"m":3972,"i":34},{"m":3982,"i":3},{"m":3992,"i":30},{"m":4002,"i":6},{"m":4012,"i":37},{"m":4022,"i":4},{"m":4032,"i":29},{"m":4042,"i":8},{"m":4052,"i":33},{"m":4062,"i":5},{"m":4072,"i":26},{"m":4082,"i":3},{"m":4092,"i":35},{"m":4102,"i":6},{"m":4112,"i":31},{"m":4122,"i":4},{"m":4132,"i":28},{"m":4142,"i":7},{"m":4152,"i":36},{"m":4162,"i":5},{"m":4172,"i":30},{"m":4182,"i":3},{"m":4192,"i":34},{"m":4202,"i":6},{"m":4212,"i":27},{"m":4222,"i":4},{"m":4232,"i":32},{"m":4242,"i":8},{"m":4252,"i":29},{"m":4262,"i":5},{"m":4272,"i":37},{"m":4282,"i":3},{"m":4292,"i":28},{"m":4302,"i":6},{"m":4312,"i":31},{"m":4322,"i":4},{"m":4332,"i":26},{"m":4342,"i":7},{"m":4352,"i":33},{"m":4362,"i":42},{"m":4372,"i":5},{"m":4382,"i":29},{"m":4392,"i":3},{"m":4402,"i":35},{"m":4412,"i":6},{"m":4422,"i":27},{"m":4432,"i":4},{"m":4442,"i":31},{"m":4452,"i":8},{"m":4462,"i":28},{"m":4472,"i":5},{"m":4482,"i":34},{"m":4492,"i":3},{"m":4502,"i":26},{"m":4512,"i":6},{"m":4522,"i":30},{"m":4532,"i":4},{"m":4542,"i":35},{"m":4552,"i":7},{"m":4562,"i":27},{"m":4572,"i":5},{"m":4582,"i":31},{"m":4592,"i":3},{"m":4602,"i":25},{"m":4612,"i":6},{"m":4622,"i":33},{"m":4632,"i":4},{"m":4642,"i":28},{"m":4652,"i":7},{"m":4662,"i":30},{"m":4672,"i":5},{"m":4682,"i":26},{"m":4692,"i":3},{"m":4702,"i":32},{"m":4712,"i":6},{"m":4722,"i":29},{"m":4732,"i":4},{"m":4742,"i":34},{"m":4746,"i":8},{"m":4749.5,"i":53},{"m":4753,"i":6},{"m":4762,"i":30},{"m":4772,"i":5},{"m":4782,"i":27},{"m":4792,"i":3},{"m":4802,"i":33},{"m":4812,"i":6},{"m":4822,"i":28},{"m":4832,"i":4},{"m":4842,"i":31},{"m":4852,"i":7},{"m":4862,"i":25},{"m":4872,"i":5},{"m":4882,"i":32},{"m":4892,"i":3},{"m":4902,"i":29},{"m":4912,"i":6},{"m":4922,"i":35},{"m":4932,"i":4},{"m":4942,"i":27},{"m":4952,"i":7},{"m":4962,"i":31},{"m":4972,"i":5},{"m":4982,"i":28},{"m":4992,"i":3},{"m":5002,"i":33},{"m":5012,"i":6},{"m":5022,"i":30},{"m":5032,"i":4},{"m":5042,"i":36},{"m":5052,"i":7},{"m":5062,"i":32},{"m":5072,"i":9},{"m":5080,"i":45},{"m":5085,"i":12},{"m":5090.3,"i":137},{"m":5095,"i":15},{"m":5100,"i":50},{"m":5106,"i":8},{"m":5114,"i":38},{"m":5122,"i":5},{"m":5132,"i":30},{"m":5142,"i":4},{"m":5152,"i":27},{"m":5162,"i":6},{"m":5172,"i":33},{"m":5182,"i":3},{"m":5192,"i":28},{"m":5202,"i":7},{"m":5212,"i":31},{"m":5222,"i":5},{"m":5232,"i":36},{"m":5238,"i":10},{"m":5244.6,"i":45},{"m":5250,"i":8},{"m":5258,"i":34},{"m":5268,"i":4},{"m":5278,"i":29},{"m":5288,"i":6},{"m":5298,"i":32},{"m":5308,"i":3},{"m":5318,"i":27},{"m":5328,"i":7},{"m":5338,"i":30},{"m":5348,"i":4},{"m":5358,"i":33},{"m":5368,"i":6},{"m":5378,"i":28},{"m":5388,"i":5},{"m":5398,"i":31},{"m":5408,"i":3},{"m":5418,"i":26},{"m":5428,"i":6},{"m":5438,"i":30},{"m":5448,"i":4},{"m":5458,"i":33},{"m":5468,"i":7},{"m":5478,"i":27},{"m":5488,"i":5},{"m":5498,"i":31},{"m":5510,"i":8}],
"LA": [{"t":"FLRFa/FIRFa","m":596,"p":367,"lm":378,"q":410,"tm":350,"b":432},{"t":"FMRFa","m":613,"p":252,"lm":965,"q":428,"tm":976,"b":438},{"t":"715.4","m":722,"p":228,"lm":892,"q":302,"tm":937,"b":307},{"t":"ALSGDAFLRFa","m":1087,"p":97,"lm":1087,"q":197,"tm":1087,"b":207},{"t":"807.5","m":807.5,"p":133,"lm":807.5,"q":134,"tm":807.5,"b":140},{"t":"1325.7","m":1330,"p":158,"lm":1330,"q":159,"tm":1333,"b":165},{"t":"1396.8","m":1408,"p":87,"lm":1408,"q":250,"tm":1413,"b":257},{"t":"1527.8","m":1543,"p":405,"lm":1543,"q":406,"tm":1543,"b":412},{"t":"1777.9","m":1813,"p":52,"lm":1758,"q":125,"tm":1741,"b":130},{"t":"1884.0","m":1884,"p":82,"lm":1884,"q":217,"tm":1884,"b":225},{"t":"2068.5","m":2068.5,"p":82,"lm":1998,"q":138,"tm":1998,"b":143},{"t":"2212.5","m":2225,"p":200,"lm":2225,"q":202,"tm":2230,"b":208},{"t":"2453.8","m":2458,"p":297,"lm":2458,"q":298,"tm":2458,"b":302},{"t":"2729.3","m":2735,"p":160,"lm":2735,"q":161,"tm":2735,"b":167},{"t":"2936.1","m":2941,"p":32,"lm":2874,"q":82,"tm":2846,"b":88},{"t":"2969.4","m":2978,"p":35,"lm":2978,"q":192,"tm":2978,"b":197},{"t":"3028.4","m":3045,"p":57,"lm":3282,"q":117,"tm":3282,"b":125},{"t":"3553.6","m":3565,"p":22,"lm":3433,"q":67,"tm":3427,"b":72},{"t":"3607.4","m":3620,"p":22,"lm":3880,"q":90,"tm":3891,"b":95},{"t":"4682.6","m":4690,"p":157,"lm":4690,"q":158,"tm":4690,"b":163}],
"LB": [{"t":"FLRFa/FIRFa","m":591,"p":233,"lm":334,"q":293,"tm":239,"b":295},{"t":"FMRFa","m":607,"p":290,"lm":965,"q":316,"tm":981,"b":318},{"t":"664.4","m":685,"p":178,"lm":836,"q":228,"tm":847,"b":235},{"t":"752.6","m":764,"p":110,"lm":870,"q":146,"tm":875,"b":153},{"t":"ALSGDAFLRFa","m":1104,"p":56,"lm":1104,"q":163,"tm":1104,"b":170},{"t":"1288.3","m":1284,"p":43,"lm":1284,"q":115,"tm":1284,"b":121},{"t":"1425.2","m":1428,"p":55,"lm":1428,"q":118,"tm":1432,"b":125},{"t":"1615.4","m":1622,"p":51,"lm":1622,"q":163,"tm":1628,"b":170},{"t":"1928.5","m":1928.5,"p":36,"lm":1928.5,"q":121,"tm":1928.5,"b":128},{"t":"2013.2","m":2013.2,"p":43,"lm":2013.2,"q":233,"tm":2013.2,"b":238},{"t":"2477.2","m":2477.2,"p":26,"lm":2477.2,"q":115,"tm":2477.2,"b":121},{"t":"2933.9","m":2933.9,"p":16,"lm":2933.9,"q":76,"tm":2933.9,"b":83},{"t":"3078.7","m":3078.7,"p":20,"lm":3078.7,"q":113,"tm":3078.7,"b":120},{"t":"4676.1","m":4676.1,"p":33,"lm":4676.1,"q":36,"tm":4676.1,"b":43}],
"LC": [{"t":"FLRFa/FIRFa","m":602,"p":152,"lm":334,"q":318,"tm":250,"b":322},{"t":"FMRFa","m":618,"p":242,"lm":708,"q":293,"tm":702,"b":303},{"t":"664.44","m":674,"p":190,"lm":825,"q":243,"tm":831,"b":250},{"t":"752.7","m":758,"p":117,"lm":825,"q":153,"tm":831,"b":158},{"t":"ALSGDAFIRFa","m":1099,"p":125,"lm":1099,"q":207,"tm":1099,"b":213},{"t":"1258.4","m":1265,"p":98,"lm":1265,"q":170,"tm":1268,"b":177},{"t":"1425.2","m":1430,"p":108,"lm":1430,"q":147,"tm":1432,"b":153},{"t":"1781.3","m":1781.3,"p":83,"lm":1781.3,"q":170,"tm":1781.3,"b":178},{"t":"2042.8","m":2042.8,"p":73,"lm":2042.8,"q":145,"tm":2042.8,"b":152},{"t":"2284.3","m":2284.3,"p":87,"lm":2284.3,"q":173,"tm":2284.3,"b":178},{"t":"2537.6","m":2537.6,"p":288,"lm":2537.6,"q":289,"tm":2537.6,"b":295},{"t":"2879.3","m":2879.3,"p":180,"lm":2879.3,"q":181,"tm":2879.3,"b":185},{"t":"4749.5","m":4749.5,"p":53,"lm":4749.5,"q":110,"tm":4749.5,"b":117},{"t":"5090.3","m":5090.3,"p":137,"lm":5090.3,"q":138,"tm":5090.3,"b":142},{"t":"5244.6","m":5244.6,"p":45,"lm":5244.6,"q":107,"tm":5244.6,"b":117}]
},
"layer": [
{"data": {"name": "A"}, "mark": {"type": "line", "color": "black", "strokeWidth": 1},
 "encoding": {
  "x": {"field": "m", "type": "quantitative", "title": "m/z", "scale": {"domain": [490, 5510], "nice": false, "zero": false},
        "axis": {"values": [1000, 2000, 3000, 4000, 5000], "format": "d", "offset": 11, "grid": false, "domainColor": "black", "domainWidth": 2, "tickColor": "black", "tickWidth": 1.2, "tickSize": 16, "labelFont": "Liberation Serif", "labelFontSize": 23, "labelColor": "black", "labelPadding": 13, "titleFont": "Liberation Serif", "titleFontSize": 23, "titleFontStyle": "italic", "titleFontWeight": "normal", "titleColor": "black", "titlePadding": 4}},
  "y": {"field": "i", "type": "quantitative", "scale": {"domain": [-815, 405], "nice": false, "zero": false}, "axis": null}}},
{"data": {"name": "LA"}, "mark": {"type": "rule", "color": "black", "strokeWidth": 1.2},
 "encoding": {"x": {"field": "m", "type": "quantitative", "title": "m/z", "scale": {"domain": [490, 5510], "nice": false, "zero": false}}, "x2": {"field": "lm"},
  "y": {"field": "p", "type": "quantitative", "scale": {"domain": [-815, 405], "nice": false, "zero": false}, "axis": null}, "y2": {"field": "q"}}},
{"data": {"name": "LA"}, "mark": {"type": "text", "angle": 270, "align": "left", "baseline": "middle", "font": "Liberation Serif", "fontSize": 23, "color": "black"},
 "encoding": {"x": {"field": "tm", "type": "quantitative", "title": "m/z", "scale": {"domain": [490, 5510], "nice": false, "zero": false}},
  "y": {"field": "b", "type": "quantitative", "scale": {"domain": [-815, 405], "nice": false, "zero": false}, "axis": null}, "text": {"field": "t"}}},
{"data": {"values": [{"t": "A", "m": 4790, "i": 375}]}, "mark": {"type": "text", "align": "center", "baseline": "middle", "font": "Liberation Sans", "fontSize": 31, "color": "black"},
 "encoding": {"x": {"field": "m", "type": "quantitative", "title": "m/z", "scale": {"domain": [490, 5510], "nice": false, "zero": false}},
  "y": {"field": "i", "type": "quantitative", "scale": {"domain": [-815, 405], "nice": false, "zero": false}, "axis": null}, "text": {"field": "t"}}},
{"data": {"name": "B"}, "mark": {"type": "line", "color": "black", "strokeWidth": 1},
 "encoding": {"x": {"field": "m", "type": "quantitative", "title": "m/z", "scale": {"domain": [490, 5510], "nice": false, "zero": false}},
  "y": {"field": "i", "type": "quantitative", "scale": {"domain": [-432, 788], "nice": false, "zero": false}, "axis": null}}},
{"data": {"name": "LB"}, "mark": {"type": "rule", "color": "black", "strokeWidth": 1.2},
 "encoding": {"x": {"field": "m", "type": "quantitative", "title": "m/z", "scale": {"domain": [490, 5510], "nice": false, "zero": false}}, "x2": {"field": "lm"},
  "y": {"field": "p", "type": "quantitative", "scale": {"domain": [-432, 788], "nice": false, "zero": false}, "axis": null}, "y2": {"field": "q"}}},
{"data": {"name": "LB"}, "mark": {"type": "text", "angle": 270, "align": "left", "baseline": "middle", "font": "Liberation Serif", "fontSize": 23, "color": "black"},
 "encoding": {"x": {"field": "tm", "type": "quantitative", "title": "m/z", "scale": {"domain": [490, 5510], "nice": false, "zero": false}},
  "y": {"field": "b", "type": "quantitative", "scale": {"domain": [-432, 788], "nice": false, "zero": false}, "axis": null}, "text": {"field": "t"}}},
{"data": {"values": [{"t": "B", "m": 4790, "i": 286}]}, "mark": {"type": "text", "align": "center", "baseline": "middle", "font": "Liberation Sans", "fontSize": 31, "color": "black"},
 "encoding": {"x": {"field": "m", "type": "quantitative", "title": "m/z", "scale": {"domain": [490, 5510], "nice": false, "zero": false}},
  "y": {"field": "i", "type": "quantitative", "scale": {"domain": [-432, 788], "nice": false, "zero": false}, "axis": null}, "text": {"field": "t"}}},
{"data": {"name": "C"}, "mark": {"type": "line", "color": "black", "strokeWidth": 1.3},
 "encoding": {"x": {"field": "m", "type": "quantitative", "title": "m/z", "scale": {"domain": [490, 5510], "nice": false, "zero": false}},
  "y": {"field": "i", "type": "quantitative", "scale": {"domain": [0, 1220], "nice": false, "zero": false}, "axis": null}}},
{"data": {"name": "LC"}, "mark": {"type": "rule", "color": "black", "strokeWidth": 1.2},
 "encoding": {"x": {"field": "m", "type": "quantitative", "title": "m/z", "scale": {"domain": [490, 5510], "nice": false, "zero": false}}, "x2": {"field": "lm"},
  "y": {"field": "p", "type": "quantitative", "scale": {"domain": [0, 1220], "nice": false, "zero": false}, "axis": null}, "y2": {"field": "q"}}},
{"data": {"name": "LC"}, "mark": {"type": "text", "angle": 270, "align": "left", "baseline": "middle", "font": "Liberation Serif", "fontSize": 23, "color": "black"},
 "encoding": {"x": {"field": "tm", "type": "quantitative", "title": "m/z", "scale": {"domain": [490, 5510], "nice": false, "zero": false}},
  "y": {"field": "b", "type": "quantitative", "scale": {"domain": [0, 1220], "nice": false, "zero": false}, "axis": null}, "text": {"field": "t"}}},
{"data": {"values": [{"t": "C", "m": 4790, "i": 328}]}, "mark": {"type": "text", "align": "center", "baseline": "middle", "font": "Liberation Sans", "fontSize": 31, "color": "black"},
 "encoding": {"x": {"field": "m", "type": "quantitative", "title": "m/z", "scale": {"domain": [490, 5510], "nice": false, "zero": false}},
  "y": {"field": "i", "type": "quantitative", "scale": {"domain": [0, 1220], "nice": false, "zero": false}, "axis": null}, "text": {"field": "t"}}},
{"data": {"values": [{"t": "n", "m": 118, "i": 58}, {"t": "o", "m": 118, "i": 30}, {"t": ",", "m": 118, "i": -54}]}, "mark": {"type": "text", "align": "left", "baseline": "middle", "font": "Liberation Serif", "fontSize": 20, "color": "black"},
 "encoding": {"x": {"field": "m", "type": "quantitative", "title": "m/z", "scale": {"domain": [490, 5510], "nice": false, "zero": false}},
  "y": {"field": "i", "type": "quantitative", "scale": {"domain": [0, 1220], "nice": false, "zero": false}, "axis": null}, "text": {"field": "t"}}},
{"data": {"values": [{"t": "a", "m": 118, "i": 2}, {"t": "s", "m": 118, "i": -26}]}, "mark": {"type": "text", "align": "left", "baseline": "middle", "font": "Liberation Serif", "fontSize": 20, "fontStyle": "italic", "color": "black"},
 "encoding": {"x": {"field": "m", "type": "quantitative", "title": "m/z", "scale": {"domain": [490, 5510], "nice": false, "zero": false}},
  "y": {"field": "i", "type": "quantitative", "scale": {"domain": [0, 1220], "nice": false, "zero": false}, "axis": null}, "text": {"field": "t"}}}
]
}
